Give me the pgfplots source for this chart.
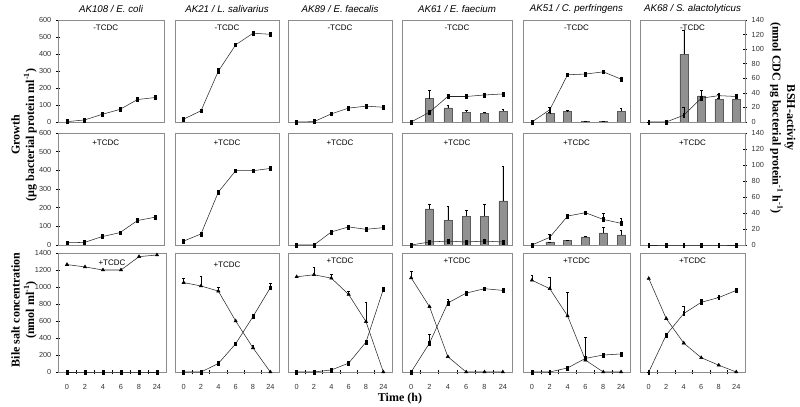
\documentclass[border=0pt]{standalone}
\usepackage{pgfplots}
\pgfplotsset{compat=1.18}
\usepackage{fontspec}
\setmainfont{Liberation Sans}
\newfontfamily\tnr{Liberation Serif}
\newcommand\tf{\fontsize{7.3}{9}\selectfont\itshape}
\newcommand\lf{\fontsize{6}{7}\selectfont}
\newcommand\bl{\fontsize{9}{11}\selectfont\tnr\bfseries}
\pgfplotsset{
 panel/.style={scale only axis, anchor=north west, xmin=-0.5, xmax=5.5,
   axis line style={black!45, line width=0.5pt}, xtick=\empty, ytick=\empty, clip=false,
   tick style={black, line width=0.4pt}, tick align=center, major tick length=3pt,
   ticklabel style={font=\fontsize{5.5}{6}\selectfont, text=black!80},
   /pgf/number format/assume math mode=true, /pgf/number format/1000 sep={}},
 grow/.style={ymin=0, ymax=600},
 bsh/.style={ymin=0, ymax=140},
 bile/.style={ymin=0, ymax=1400, xtick={0,...,5}, xticklabels={0,2,4,6,8,24}, xtick pos=left,
   major x tick style={draw=none}, minor xtick={0.5,1.5,2.5,3.5,4.5}, minor tick length=3.5pt,
   xticklabel style={yshift=-4pt}},
 ln/.style={black!85, line width=0.4pt, mark=square*, mark size=0.95pt,
   mark options={xscale=0.75, yscale=1.5, fill=black, draw=black}},
 tri/.style={black!85, line width=0.4pt, mark=triangle*, mark size=1.4pt,
   mark options={fill=black, draw=black}},
 br/.style={ybar, bar width=6pt, fill={rgb,255:red,145;green,145;blue,145}, draw=black!65, line width=0.3pt, mark=none},
 eb/.style={error bars/.cd, y dir=plus, y explicit, error bar style={black, line width=0.3pt},
   error mark options={rotate=90, mark size=1pt, black}},
}
\begin{document}
\begin{tikzpicture}
\useasboundingbox (0,0) rectangle (600pt,305.25pt);
%================ ROW 1 ================
% C1
\begin{axis}[panel, grow, at={(43.5pt,290.25pt)}, width=79.5pt, height=76.5pt, ytick={0,100,...,600}, ytick pos=left]
\addplot[ln] coordinates {(0,2)(1,12)(2,45)(3,74)(4,132)(5,144)};
\node[font=\tf] at (rel axis cs:0.5,1) [yshift=8pt] {AK108 / E. coli};
\node[font=\lf] at (rel axis cs:0.45,1) [yshift=-6pt] {-TCDC};
\end{axis}
% C2
\begin{axis}[panel, grow, at={(131.25pt,290.25pt)}, width=78pt, height=76.5pt]
\addplot[ln, eb] coordinates {(0,17) +- (0,0) (1,66) +- (0,10) (2,299) +- (0,15) (3,454) +- (0,12) (4,522) +- (0,8) (5,516) +- (0,5)};
\node[font=\tf] at (rel axis cs:0.5,1) [yshift=8pt] {AK21 / L. salivarius};
\node[font=\lf] at (rel axis cs:0.5,1) [yshift=-6pt] {-TCDC};
\end{axis}
% C3
\begin{axis}[panel, grow, at={(216pt,290.25pt)}, width=78pt, height=76.5pt]
\addplot[ln, eb] coordinates {(0,0) +- (0,0) (1,2) +- (0,0) (2,48) +- (0,5) (3,82) +- (0,8) (4,93) +- (0,8) (5,87) +- (0,0)};
\node[font=\tf] at (rel axis cs:0.5,1) [yshift=8pt] {AK89 / E. faecalis};
\node[font=\lf] at (rel axis cs:0.5,1) [yshift=-6pt] {-TCDC};
\end{axis}
% C4
\begin{axis}[panel, bsh, hide axis, at={(301.5pt,290.25pt)}, width=82.5pt, height=76.5pt]
\addplot[br, eb] coordinates {(1,32) +- (0,11) (2,19.5) +- (0,3) (3,13.6) +- (0,2.4) (4,12.2) +- (0,1) (5,15) +- (0,2)};
\end{axis}
\begin{axis}[panel, grow, at={(301.5pt,290.25pt)}, width=82.5pt, height=76.5pt]
\addplot[ln, eb] coordinates {(0,0) +- (0,0) (1,58) +- (0,0) (2,150) +- (0,8) (3,150) +- (0,0) (4,159) +- (0,0) (5,165) +- (0,6)};
\node[font=\tf] at (rel axis cs:0.5,1) [yshift=8pt] {AK61 / E. faecium};
\node[font=\lf] at (rel axis cs:0.5,1) [yshift=-6pt] {-TCDC};
\end{axis}
% C5
\begin{axis}[panel, bsh, hide axis, at={(392.25pt,290.25pt)}, width=80.25pt, height=76.5pt]
\addplot[br, eb] coordinates {(1,12) +- (0,1) (2,14.5) +- (0,1) (3,0.5) +- (0,0) (4,0.5) +- (0,0) (5,14.5) +- (0,5)};
\end{axis}
\begin{axis}[panel, grow, at={(392.25pt,290.25pt)}, width=80.25pt, height=76.5pt]
\addplot[ln, eb] coordinates {(0,0) +- (0,0) (1,72) +- (0,12) (2,278) +- (0,0) (3,282) +- (0,6) (4,295) +- (0,6) (5,252) +- (0,0)};
\node[font=\tf] at (rel axis cs:0.5,1) [yshift=8pt] {AK51 / C. perfringens};
\node[font=\lf] at (rel axis cs:0.5,1) [yshift=-6pt] {-TCDC};
\end{axis}
% C6
\begin{axis}[panel, bsh, at={(480pt,290.25pt)}, width=78.75pt, height=76.5pt, hide x axis, axis y line*=right, ytick={0,20,...,140}]
\addplot[br, eb] coordinates {(2,93) +- (0,33) (3,36) +- (0,7) (4,31) +- (0,2) (5,31) +- (0,5)};
\end{axis}
\begin{axis}[panel, grow, at={(480pt,290.25pt)}, width=78.75pt, height=76.5pt]
\addplot[ln, eb] coordinates {(0,0) +- (0,0) (1,0) +- (0,0) (2,40) +- (0,45) (3,140) +- (0,10) (4,155) +- (0,8) (5,150) +- (0,10)};
\node[font=\tf] at (rel axis cs:0.5,1) [yshift=8pt] {AK68 / S. alactolyticus};
\node[font=\lf] at (rel axis cs:0.5,1) [yshift=-6pt] {-TCDC};
\end{axis}
%================ ROW 2 ================
% C1
\begin{axis}[panel, grow, at={(43.5pt,205.5pt)}, width=79.5pt, height=84pt, ytick={0,100,...,600}, ytick pos=left]
\addplot[ln] coordinates {(0,12)(1,14)(2,45)(3,66)(4,131)(5,149)};
\node[font=\lf] at (rel axis cs:0.45,1) [yshift=-7pt] {+TCDC};
\end{axis}
% C2
\begin{axis}[panel, grow, at={(131.25pt,205.5pt)}, width=78pt, height=84pt]
\addplot[ln] coordinates {(0,21)(1,59)(2,283)(3,398)(4,398)(5,410)};
\node[font=\lf] at (rel axis cs:0.5,1) [yshift=-7pt] {+TCDC};
\end{axis}
% C3
\begin{axis}[panel, grow, at={(216pt,205.5pt)}, width=78pt, height=84pt]
\addplot[ln, eb] coordinates {(0,0) +- (0,0) (1,0) +- (0,0) (2,70) +- (0,0) (3,97) +- (0,6) (4,84) +- (0,6) (5,93) +- (0,10)};
\node[font=\lf] at (rel axis cs:0.5,1) [yshift=-7pt] {+TCDC};
\end{axis}
% C4
\begin{axis}[panel, bsh, hide axis, at={(301.5pt,205.5pt)}, width=82.5pt, height=84pt]
\addplot[br, eb] coordinates {(1,45) +- (0,6) (2,31) +- (0,18) (3,36) +- (0,8) (4,36) +- (0,15) (5,55) +- (0,44)};
\end{axis}
\begin{axis}[panel, grow, at={(301.5pt,205.5pt)}, width=82.5pt, height=84pt]
\addplot[ln] coordinates {(0,0)(1,16)(2,21)(3,16)(4,21)(5,16)};
\node[font=\lf] at (rel axis cs:0.5,1) [yshift=-7pt] {+TCDC};
\end{axis}
% C5
\begin{axis}[panel, bsh, hide axis, at={(392.25pt,205.5pt)}, width=80.25pt, height=84pt]
\addplot[br, eb] coordinates {(1,4) +- (0,0) (2,6) +- (0,0) (3,10) +- (0,1) (4,15) +- (0,7) (5,12.5) +- (0,6.5)};
\end{axis}
\begin{axis}[panel, grow, at={(392.25pt,205.5pt)}, width=80.25pt, height=84pt]
\addplot[ln, eb] coordinates {(0,0) +- (0,0) (1,41) +- (0,15) (2,155) +- (0,0) (3,173) +- (0,6) (4,137) +- (0,32) (5,116) +- (0,27)};
\node[font=\lf] at (rel axis cs:0.5,1) [yshift=-7pt] {+TCDC};
\end{axis}
% C6
\begin{axis}[panel, bsh, at={(480pt,205.5pt)}, width=78.75pt, height=84pt, hide x axis, axis y line*=right, ytick={0,20,...,140}]
\addplot[draw=none] coordinates {(0,0)(5,0)};
\end{axis}
\begin{axis}[panel, grow, at={(480pt,205.5pt)}, width=78.75pt, height=84pt]
\addplot[ln] coordinates {(0,0)(1,0)(2,0)(3,0)(4,0)(5,0)};
\node[font=\lf] at (rel axis cs:0.5,1) [yshift=-7pt] {+TCDC};
\end{axis}
%================ ROW 3 ================
% C1
\begin{axis}[panel, bile, at={(43.5pt,115.5pt)}, width=81pt, height=89.25pt, ytick={0,200,...,1400}, ytick pos=left]
\addplot[tri] coordinates {(0,1264)(1,1236)(2,1200)(3,1200)(4,1357)(5,1377)};
\addplot[ln] coordinates {(0,0)(1,0)(2,0)(3,0)(4,0)(5,0)};
\node[font=\lf, fill=white, inner sep=0.5pt] at (rel axis cs:0.5,1) [yshift=-7pt] {+TCDC};
\end{axis}
% C2
\begin{axis}[panel, bile, at={(131.25pt,115.5pt)}, width=78pt, height=89.25pt]
\addplot[tri, eb] coordinates {(0,1052) +- (0,50) (1,1012) +- (0,110) (2,952) +- (0,40) (3,600) +- (0,0) (4,284) +- (0,30) (5,0) +- (0,0)};
\addplot[ln, eb] coordinates {(0,0) +- (0,0) (1,0) +- (0,0) (2,100) +- (0,0) (3,332) +- (0,0) (4,652) +- (0,0) (5,992) +- (0,50)};
\node[font=\lf] at (rel axis cs:0.5,1) [yshift=-9pt] {+TCDC};
\end{axis}
% C3
\begin{axis}[panel, bile, at={(216pt,115.5pt)}, width=78pt, height=89.25pt]
\addplot[tri, eb] coordinates {(0,1120) +- (0,0) (1,1144) +- (0,88) (2,1104) +- (0,40) (3,912) +- (0,40) (4,592) +- (0,228) (5,0) +- (0,0)};
\addplot[ln] coordinates {(0,0)(1,0)(2,24)(3,104)(4,352)(5,972)};
\node[font=\lf] at (rel axis cs:0.5,1) [yshift=-6pt] {+TCDC};
\end{axis}
% C4
\begin{axis}[panel, bile, at={(301.5pt,115.5pt)}, width=82.5pt, height=89.25pt]
\addplot[tri, eb] coordinates {(0,1108) +- (0,72) (1,768) +- (0,0) (2,180) +- (0,0) (3,0) +- (0,0) (4,0) +- (0,0) (5,0) +- (0,0)};
\addplot[ln, eb] coordinates {(0,0) +- (0,0) (1,340) +- (0,100) (2,812) +- (0,40) (3,928) +- (0,0) (4,980) +- (0,0) (5,960) +- (0,0)};
\node[font=\lf] at (rel axis cs:0.5,1) [yshift=-6pt] {+TCDC};
\end{axis}
% C5
\begin{axis}[panel, bile, at={(392.25pt,115.5pt)}, width=80.25pt, height=89.25pt]
\addplot[tri, eb] coordinates {(0,1080) +- (0,60) (1,980) +- (0,140) (2,660) +- (0,280) (3,140) +- (0,270) (4,0) +- (0,0) (5,0) +- (0,0)};
\addplot[ln, eb] coordinates {(0,0) +- (0,0) (1,0) +- (0,0) (2,48) +- (0,0) (3,160) +- (0,0) (4,200) +- (0,0) (5,212) +- (0,20)};
\node[font=\lf] at (rel axis cs:0.5,1) [yshift=-6pt] {+TCDC};
\end{axis}
% C6
\begin{axis}[panel, bile, at={(480pt,115.5pt)}, width=78.75pt, height=89.25pt]
\addplot[tri] coordinates {(0,1100)(1,628)(2,340)(3,168)(4,80)(5,0)};
\addplot[ln, eb] coordinates {(0,0) +- (0,0) (1,436) +- (0,0) (2,688) +- (0,80) (3,820) +- (0,30) (4,876) +- (0,0) (5,960) +- (0,0)};
\node[font=\lf] at (rel axis cs:0.5,1) [yshift=-6pt] {+TCDC};
\end{axis}
%================ LABELS ================
\node[font=\bl, rotate=90, align=center] at (18pt,204pt) {Growth\\(µg bacterial protein ml\textsuperscript{-1})};
\node[font=\bl, rotate=90, align=center] at (18pt,72.75pt) {Bile salt concentration\\(nmol ml\textsuperscript{-1})};
\node[font=\bl, rotate=-90, align=center] at (587pt,216.75pt) {BSH-activity\\(nmol CDC µg bacterial protein\textsuperscript{-1} h\textsuperscript{-1})};
\node[font=\bl] at (300pt,6.5pt) {Time (h)};
\end{tikzpicture}
\end{document}
